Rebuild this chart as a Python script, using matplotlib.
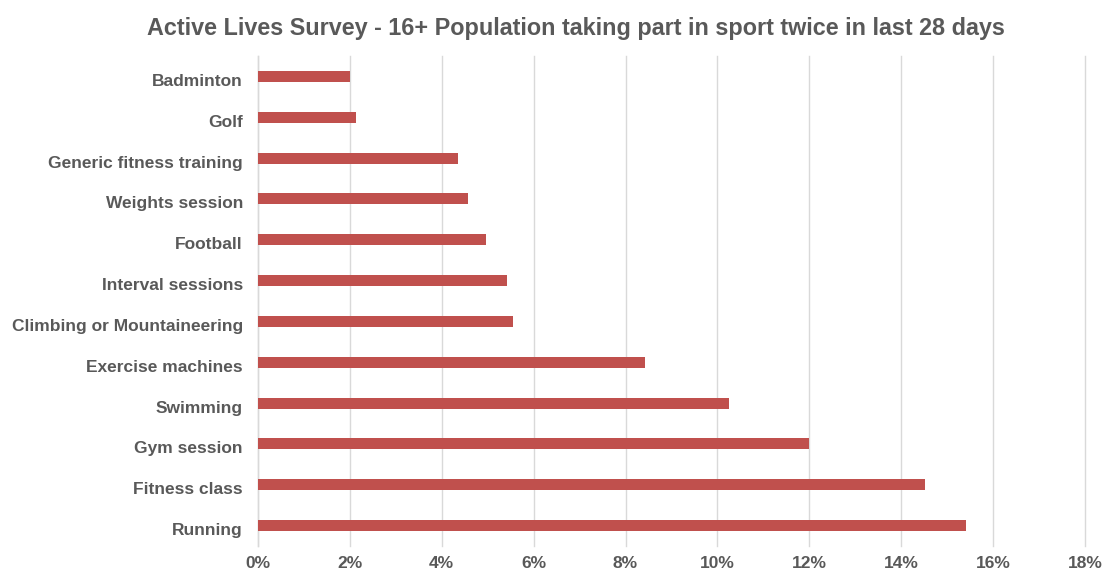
"""Active Lives Survey bar chart."""

import matplotlib

matplotlib.use("Agg")

import matplotlib.pyplot as plt
import matplotlib.transforms as mtransforms
import numpy as np
from matplotlib.ticker import FuncFormatter, MultipleLocator

plt.rcParams["font.family"] = ["Liberation Sans", "DejaVu Sans"]

activities = [
    "Badminton",
    "Golf",
    "Generic fitness training",
    "Weights session",
    "Football",
    "Interval sessions",
    "Climbing or Mountaineering",
    "Exercise machines",
    "Swimming",
    "Gym session",
    "Fitness class",
    "Running",
]
share_pct = [2.0, 2.14, 4.36, 4.56, 4.97, 5.41, 5.54, 8.42, 10.25, 11.99, 14.52, 15.42]

TEXT_COLOR = "#595959"
BAR_COLOR = "#C0504D"
GRID_COLOR = "#D9D9D9"

fig = plt.figure(figsize=(11.02, 5.74), dpi=100)
ax = fig.add_axes([258 / 1102, 1 - 546 / 574, (1085 - 258) / 1102, (546 - 56) / 574])

y = np.arange(len(activities))
ax.barh(y, share_pct, height=0.27, color=BAR_COLOR, zorder=3)

ax.set_ylim(len(activities) - 0.5, -0.5)
ax.set_yticks(y)
ax.set_yticklabels([])
# category labels sit a few pixels below the bar centre, as in the original
label_tf = ax.get_yaxis_transform() + mtransforms.ScaledTranslation(
    -15 / 100, -5 / 100, fig.dpi_scale_trans
)
for pos, name in zip(y, activities):
    ax.text(0, pos, name, transform=label_tf, ha="right", va="center",
            fontsize=12.5, fontweight="bold", color=TEXT_COLOR)

ax.set_xlim(0, 18)
ax.xaxis.set_major_locator(MultipleLocator(2))
ax.xaxis.set_major_formatter(FuncFormatter(lambda v, _: f"{v:.0f}%"))
for label in ax.get_xticklabels():
    label.set_fontsize(12.5)
    label.set_fontweight("bold")
    label.set_color(TEXT_COLOR)

ax.tick_params(axis="both", length=0)
ax.tick_params(axis="x", pad=7.5)
ax.grid(axis="x", color=GRID_COLOR, linewidth=1, zorder=0)
for line in ax.get_xgridlines():
    line.set_clip_on(False)

for side in ("top", "right", "bottom"):
    ax.spines[side].set_visible(False)
ax.spines["left"].set_color(GRID_COLOR)
ax.spines["left"].set_linewidth(1)

fig.text(
    576 / 1102,
    1 - 28 / 574,
    "Active Lives Survey - 16+ Population taking part in sport twice in last 28 days",
    ha="center",
    va="center",
    fontsize=16.8,
    fontweight="bold",
    color=TEXT_COLOR,
)

fig.savefig("out.png", dpi=100)
